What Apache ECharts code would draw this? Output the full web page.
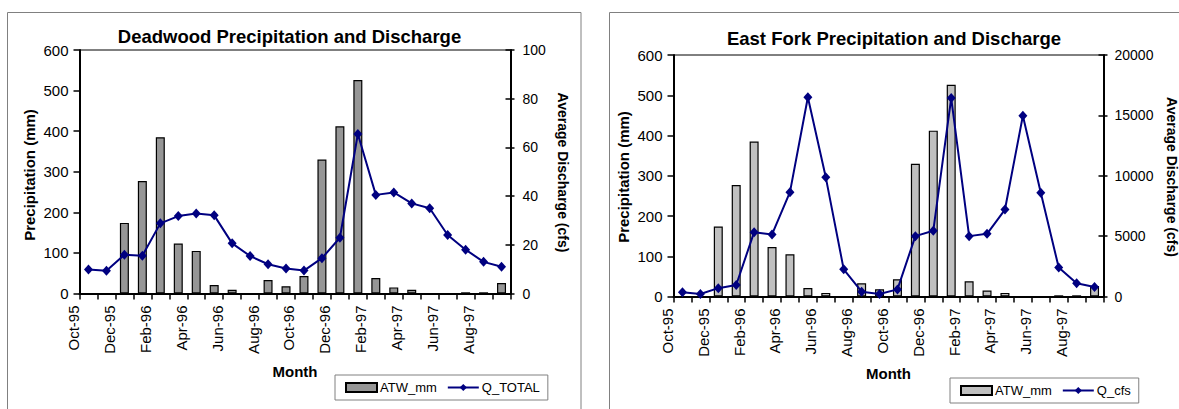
<!DOCTYPE html>
<html>
<head>
<meta charset="utf-8">
<title>Precipitation and Discharge</title>
<script src="https://cdn.jsdelivr.net/npm/echarts/dist/echarts.min.js"></script>
<style>
  html, body { margin: 0; padding: 0; background: #fff; }
  #wrap { position: relative; width: 1179px; height: 409px; overflow: hidden; }
  #deadwood { position: absolute; left: 0; top: 0; width: 590px; height: 409px; }
  #eastfork { position: absolute; left: 590px; top: 0; width: 589px; height: 409px; }
</style>
</head>
<body>
<div id="wrap">
  <div id="deadwood"></div>
  <div id="eastfork"></div>
</div>
<script>
// Monthly categories, water years 1996-1997
const months = ['Oct-95', 'Nov-95', 'Dec-95', 'Jan-96', 'Feb-96', 'Mar-96', 'Apr-96', 'May-96',
  'Jun-96', 'Jul-96', 'Aug-96', 'Sep-96', 'Oct-96', 'Nov-96', 'Dec-96', 'Jan-97',
  'Feb-97', 'Mar-97', 'Apr-97', 'May-97', 'Jun-97', 'Jul-97', 'Aug-97', 'Sep-97'];

// Monthly precipitation (mm), shared by both basins
const atwMm = [0, 0, 174, 277, 385, 123, 105, 21, 9, 0, 33, 18, 43, 330, 412, 526, 38, 15, 9, 0, 0, 3, 3, 26];

// Average monthly discharge (cfs)
const deadwoodQTotal = [9.9, 9.3, 15.9, 15.5, 28.8, 31.8, 32.9, 32.1, 20.6, 15.4, 12.0, 10.3,
  9.4, 14.5, 22.9, 65.5, 40.5, 41.5, 37, 35, 24, 18, 13, 11];
const eastForkQCfs = [350, 210, 690, 950, 5330, 5140, 8640, 16500, 9870, 2250, 400, 210,
  590, 5000, 5450, 16430, 5000, 5190, 7200, 14970, 8600, 2400, 1090, 790];

// Axis scales
const precipAxis = { min: 0, max: 600, interval: 100 };
const deadwoodQAxis = { min: 0, max: 100, interval: 20 };
const eastForkQAxis = { min: 0, max: 20000, interval: 5000 };

const FONT = '"Liberation Sans", Arial, Helvetica, sans-serif';
const LINE_COLOR = '#000080';

function textEl(text, x, y, size, rotation) {
  return {
    type: 'text', x: x, y: y, rotation: rotation || 0, silent: true,
    style: {
      text: text, fill: '#000',
      font: 'bold ' + size + 'px ' + FONT,
      align: 'center', verticalAlign: 'middle',
      textAlign: 'center', textVerticalAlign: 'middle'
    }
  };
}

const plainNumber = function (v) { return String(v); };

function buildOption(cfg) {
  const g = cfg.grid;
  const axisLine = { show: true, lineStyle: { color: '#000', width: 2 } };
  const tickStyle = { color: '#000', width: 1.5 };
  return {
    animation: false,
    backgroundColor: '#fff',
    title: {
      text: cfg.title, left: cfg.titleX, top: cfg.titleY, textAlign: 'center', padding: 0,
      textStyle: { color: '#000', fontSize: 18.5, fontWeight: 'bold', fontFamily: FONT }
    },
    grid: {
      left: g.left, top: g.top, width: g.width, height: g.height,
      show: true, borderColor: '#000', borderWidth: 1, backgroundColor: 'transparent',
      containLabel: false, outerBoundsMode: 'none'
    },
    legend: {
      left: cfg.legend.left, top: cfg.legend.top, orient: 'horizontal',
      padding: [6, 8, 6, 10], itemGap: 10, itemWidth: 31, itemHeight: 9,
      borderColor: '#808080', borderWidth: 1, borderRadius: 0, backgroundColor: '#fff',
      selectedMode: false,
      textStyle: { color: '#000', fontSize: 13, fontFamily: FONT, padding: [0, 0, 0, -2] },
      data: [{ name: 'ATW_mm', icon: 'rect' }, { name: cfg.lineName }]
    },
    xAxis: {
      type: 'category', data: months, boundaryGap: true,
      axisLine: axisLine,
      axisTick: { show: true, interval: 0, length: 6, inside: false, lineStyle: tickStyle },
      axisLabel: {
        interval: 1, rotate: 90, margin: 12,
        verticalAlign: 'bottom', lineHeight: 30,
        color: '#000', fontSize: 15, fontFamily: FONT
      },
      splitLine: { show: false }
    },
    yAxis: [
      {
        type: 'value', position: 'left', min: precipAxis.min, max: precipAxis.max, interval: precipAxis.interval,
        axisLine: axisLine,
        axisTick: { show: true, length: 6, inside: false, lineStyle: tickStyle },
        axisLabel: { margin: 11, color: '#000', fontSize: 15, fontFamily: FONT, formatter: plainNumber },
        splitLine: { show: false }
      },
      {
        type: 'value', position: 'right', min: cfg.qAxis.min, max: cfg.qAxis.max, interval: cfg.qAxis.interval,
        axisLine: axisLine,
        axisTick: { show: true, length: 4, inside: false, lineStyle: tickStyle },
        axisLabel: { margin: cfg.rightMargin, color: '#000', fontSize: 14, fontFamily: FONT, formatter: plainNumber },
        splitLine: { show: false }
      },
      {
        type: 'value', position: 'right', min: cfg.qAxis.min, max: cfg.qAxis.max, interval: cfg.qAxis.interval,
        axisLine: { show: false },
        axisTick: { show: true, length: 5, inside: true, lineStyle: tickStyle },
        axisLabel: { show: false },
        splitLine: { show: false }
      }
    ],
    series: [
      {
        type: 'bar', name: 'ATW_mm', data: atwMm, yAxisIndex: 0, barWidth: 9, z: 2,
        itemStyle: { color: cfg.barColor, borderColor: '#000', borderWidth: 1.2 },
        emphasis: { disabled: true }
      },
      {
        type: 'line', name: cfg.lineName, data: cfg.lineData, yAxisIndex: 1, z: 3,
        symbol: 'diamond', symbolSize: [9, 10], showAllSymbol: true,
        lineStyle: { color: LINE_COLOR, width: 2 },
        itemStyle: { color: LINE_COLOR },
        emphasis: { disabled: true }
      }
    ],
    graphic: [
      {
        type: 'rect', silent: true, z: -10,
        shape: cfg.frame,
        style: { fill: 'none', stroke: '#808080', lineWidth: 1 }
      },
      textEl('Precipitation (mm)', cfg.leftName[0], cfg.leftName[1], 15, Math.PI / 2),
      textEl('Average Discharge (cfs)', cfg.rightName[0], cfg.rightName[1], 14, -Math.PI / 2),
      textEl('Month', cfg.monthName[0], cfg.monthName[1], 15, 0)
    ]
  };
}

const deadwoodChart = echarts.init(document.getElementById('deadwood'), null, { renderer: 'svg' });
deadwoodChart.setOption(buildOption({
  title: 'Deadwood Precipitation and Discharge', titleX: 289.5, titleY: 27,
  grid: { left: 79.5, top: 50, width: 431, height: 243.5 },
  qAxis: deadwoodQAxis, rightMargin: 12,
  lineName: 'Q_TOTAL', lineData: deadwoodQTotal, barColor: '#969696',
  legend: { left: 335, top: 375 },
  frame: { x: 7.5, y: 12.5, width: 573.5, height: 420 },
  leftName: [29, 175], rightName: [562.5, 172.5], monthName: [295, 371]
}));

const eastForkChart = echarts.init(document.getElementById('eastfork'), null, { renderer: 'svg' });
eastForkChart.setOption(buildOption({
  title: 'East Fork Precipitation and Discharge', titleX: 304, titleY: 29,
  grid: { left: 83.5, top: 55, width: 430, height: 241.5 },
  qAxis: eastForkQAxis, rightMargin: 11,
  lineName: 'Q_cfs', lineData: eastForkQCfs, barColor: '#c0c0c0',
  legend: { left: 360, top: 378 },
  frame: { x: 19.5, y: 12.5, width: 600, height: 420 },
  leftName: [33.5, 177], rightName: [581.5, 177], monthName: [298.5, 373]
}));
</script>
</body>
</html>
